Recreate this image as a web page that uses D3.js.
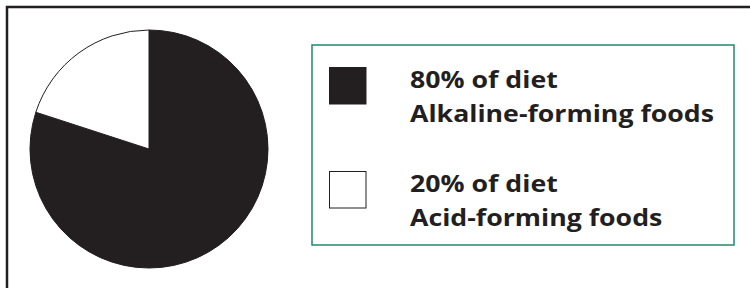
<!DOCTYPE html>
<html>
<head>
<meta charset="utf-8">
<script src="https://cdn.jsdelivr.net/npm/d3@7"></script>
<style>
	body { margin: 0; background: #fff; }
	.legendText { font-family: "Open Sans", sans-serif; font-weight: 700; fill: #231f20; }
</style>
</head>
<body>
<div id="chart"></div>
<script>
var width = 750, height = 288;

// data
var labels = ["80% of diet", "20% of diet"];
var subLabels = ["Alkaline-forming foods", "Acid-forming foods"];
var shares = [80, 20];
var colors = ["#231f20", "#ffffff"];

var svg = d3.select("#chart").append("svg")
	.attr("width", width)
	.attr("height", height);

// outer frame, runs off the right and bottom edges
svg.append("rect")
	.attr("x", 7).attr("y", 7)
	.attr("width", 780).attr("height", 320)
	.attr("fill", "none")
	.attr("stroke", "#231f20")
	.attr("stroke-width", 2.5);

var cx = 149, cy = 149, r = 119;

var pie = d3.pie().sort(null).value(function(d) { return d; });
var arc = d3.arc().innerRadius(0).outerRadius(r);

svg.append("g")
	.attr("transform", "translate(" + cx + "," + cy + ")")
	.selectAll("path")
	.data(pie(shares))
	.enter().append("path")
		.attr("d", arc)
		.attr("fill", function(d, i) { return colors[i]; })
		.attr("stroke", "#231f20")
		.attr("stroke-width", 1);

// legend
var lg = svg.append("g");
lg.append("rect")
	.attr("x", 312).attr("y", 45)
	.attr("width", 422).attr("height", 200)
	.attr("fill", "none")
	.attr("stroke", "#1f8a6e")
	.attr("stroke-width", 1.5);

var rowY = [67, 171];
var texts = [];
shares.forEach(function(s, i) {
	lg.append("rect")
		.attr("x", 329.5).attr("y", rowY[i] + 0.5)
		.attr("width", 36.5).attr("height", 36.5)
		.attr("fill", colors[i])
		.attr("stroke", "#231f20")
		.attr("stroke-width", 1);
	texts.push(lg.append("text")
		.attr("class", "legendText")
		.attr("x", 410).attr("y", rowY[i] + 21)
		.style("font-size", "24px")
		.text(labels[i]));
	texts.push(lg.append("text")
		.attr("class", "legendText")
		.attr("x", 410).attr("y", rowY[i] + 55)
		.style("font-size", "24px")
		.text(subLabels[i]));
});

// squeeze/stretch so the longest line spans ~304px like the original Gill Sans
var longest = d3.max(texts, function(t) { return t.node().getComputedTextLength(); });
var k = 304 / longest;
texts.forEach(function(t) {
	var w = t.node().getComputedTextLength();
	t.attr("textLength", w * k).attr("lengthAdjust", "spacingAndGlyphs");
});
</script>
</body>
</html>
